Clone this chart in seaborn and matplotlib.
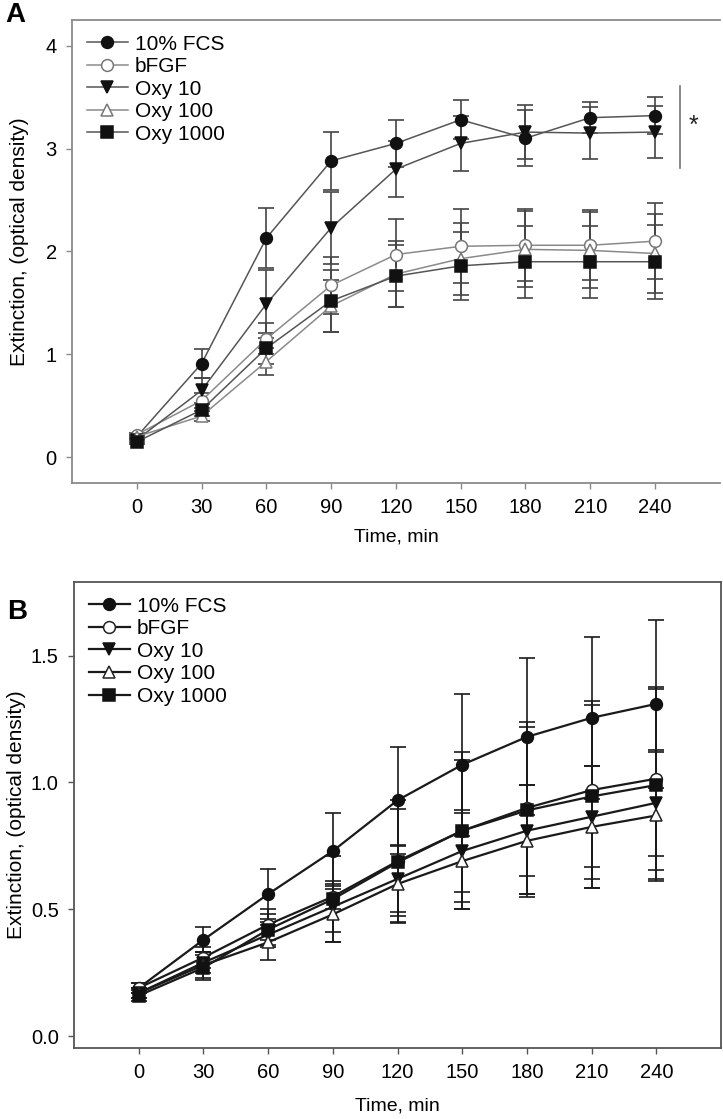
import numpy as np
import pandas as pd
import matplotlib
matplotlib.use("Agg")
import matplotlib.pyplot as plt
import seaborn as sns

# time points (min)
time = [0, 30, 60, 90, 120, 150, 180, 210, 240]
groups = ["10% FCS", "bFGF", "Oxy 10", "Oxy 100", "Oxy 1000"]

# panel A - means and error bars
a_fcs = [0.20, 0.91, 2.13, 2.88, 3.05, 3.28, 3.10, 3.30, 3.32]
a_bfgf = [0.22, 0.55, 1.15, 1.67, 1.97, 2.05, 2.06, 2.06, 2.10]
a_oxy10 = [0.17, 0.65, 1.49, 2.23, 2.80, 3.05, 3.16, 3.15, 3.16]
a_oxy100 = [0.20, 0.40, 0.93, 1.47, 1.78, 1.93, 2.02, 2.01, 1.98]
a_oxy1000 = [0.15, 0.46, 1.06, 1.52, 1.76, 1.86, 1.90, 1.90, 1.90]

a_fcs_err = [0.02, 0.14, 0.29, 0.28, 0.23, 0.19, 0.27, 0.15, 0.18]
a_bfgf_err = [0.02, 0.07, 0.15, 0.28, 0.35, 0.36, 0.35, 0.34, 0.37]
a_oxy10_err = [0.02, 0.12, 0.33, 0.35, 0.27, 0.27, 0.26, 0.25, 0.25]
a_oxy100_err = [0.02, 0.05, 0.13, 0.25, 0.32, 0.35, 0.37, 0.37, 0.38]
a_oxy1000_err = [0.02, 0.06, 0.15, 0.30, 0.30, 0.33, 0.35, 0.35, 0.36]

# panel B
b_fcs = [0.19, 0.38, 0.56, 0.73, 0.93, 1.07, 1.18, 1.255, 1.31]
b_bfgf = [0.19, 0.31, 0.44, 0.55, 0.69, 0.81, 0.90, 0.97, 1.015]
b_oxy10 = [0.17, 0.29, 0.40, 0.51, 0.62, 0.73, 0.81, 0.865, 0.92]
b_oxy100 = [0.17, 0.28, 0.37, 0.48, 0.60, 0.69, 0.77, 0.825, 0.87]
b_oxy1000 = [0.16, 0.27, 0.42, 0.54, 0.685, 0.81, 0.89, 0.945, 0.99]

b_fcs_err = [0.02, 0.05, 0.10, 0.15, 0.21, 0.28, 0.31, 0.32, 0.33]
b_bfgf_err = [0.02, 0.04, 0.06, 0.05, 0.24, 0.31, 0.34, 0.35, 0.36]
b_oxy10_err = [0.02, 0.04, 0.05, 0.10, 0.13, 0.16, 0.18, 0.20, 0.21]
b_oxy100_err = [0.02, 0.05, 0.07, 0.11, 0.155, 0.19, 0.22, 0.24, 0.25]
b_oxy1000_err = [0.02, 0.05, 0.06, 0.17, 0.21, 0.28, 0.33, 0.36, 0.38]

markers = ["o", "o", "v", "^", "s"]
filled = [True, False, True, False, True]

plt.rcParams["font.family"] = ["Liberation Sans", "DejaVu Sans"]

fig = plt.figure(figsize=(7.23, 11.19), dpi=100)
axA = fig.add_axes([0.0996, 0.5684, 0.896, 0.4138])
axB = fig.add_axes([0.1024, 0.0634, 0.895, 0.4164])


def draw_panel(ax, means, errs, line_cols, edge_cols, err_col, lw, spine_col):
    for i, g in enumerate(groups):
        ax.errorbar(time, means[i], yerr=errs[i], fmt="none", ecolor=err_col,
                    elinewidth=1.2, capsize=6, capthick=1.2, zorder=2)
    for i, g in enumerate(groups):
        df = pd.DataFrame({"t": time, "v": means[i]})
        face = "#111111" if filled[i] else "white"
        sns.lineplot(data=df, x="t", y="v", ax=ax, color=line_cols[i],
                     linewidth=lw, marker=markers[i], markersize=8.5,
                     markerfacecolor=face, markeredgecolor=edge_cols[i],
                     markeredgewidth=1.1, label=g, zorder=3)
    ax.set_xlim(-30, 270)
    ax.set_xticks(time)
    ax.set_xlabel("Time, min", fontsize=14)
    ax.set_ylabel("Extinction, (optical density)", fontsize=15)
    ax.tick_params(direction="out", length=4, width=1, color=spine_col,
                   labelsize=14.5, pad=7)
    for s in ax.spines.values():
        s.set_color(spine_col)
        s.set_linewidth(1.3)
    leg = ax.legend(loc="upper left", frameon=False, fontsize=15,
                    handlelength=2.0, handletextpad=0.3, labelspacing=0.17,
                    borderaxespad=0.5, borderpad=0.2)
    return leg


means_a = [a_fcs, a_bfgf, a_oxy10, a_oxy100, a_oxy1000]
errs_a = [a_fcs_err, a_bfgf_err, a_oxy10_err, a_oxy100_err, a_oxy1000_err]
draw_panel(axA, means_a, errs_a,
           ["#555555", "#8a8a8a", "#555555", "#8a8a8a", "#555555"],
           ["#111111", "#777777", "#111111", "#777777", "#111111"],
           "#444444", 1.1, "#8a8a8a")
axA.set_ylim(-0.25, 4.25)
axA.set_yticks([0, 1, 2, 3, 4])
axA.spines["right"].set_visible(False)
axA.yaxis.set_label_coords(-0.066, 0.52)
axA.xaxis.set_label_coords(0.5, -0.099)
# significance bracket
axA.plot([251.6, 251.6], [2.81, 3.61], color="#777777", linewidth=1.2)
axA.text(258, 3.22, "*", fontsize=18, ha="center", va="center", color="#222222")

means_b = [b_fcs, b_bfgf, b_oxy10, b_oxy100, b_oxy1000]
errs_b = [b_fcs_err, b_bfgf_err, b_oxy10_err, b_oxy100_err, b_oxy1000_err]
draw_panel(axB, means_b, errs_b,
           ["#1a1a1a"] * 5,
           ["#111111", "#222222", "#111111", "#222222", "#111111"],
           "#1a1a1a", 1.6, "#555555")
axB.set_ylim(-0.047, 1.79)
axB.set_yticks([0.0, 0.5, 1.0, 1.5])
axB.set_yticklabels(["0.0", "0.5", "1.0", "1.5"])
axB.yaxis.set_label_coords(-0.074, 0.5)
axB.xaxis.set_label_coords(0.5, -0.107)

fig.text(0.007, 0.9866, "A", fontsize=20, fontweight="bold", va="center")
fig.text(0.010, 0.453, "B", fontsize=20, fontweight="bold", va="center")

fig.savefig("out.png", dpi=100)
